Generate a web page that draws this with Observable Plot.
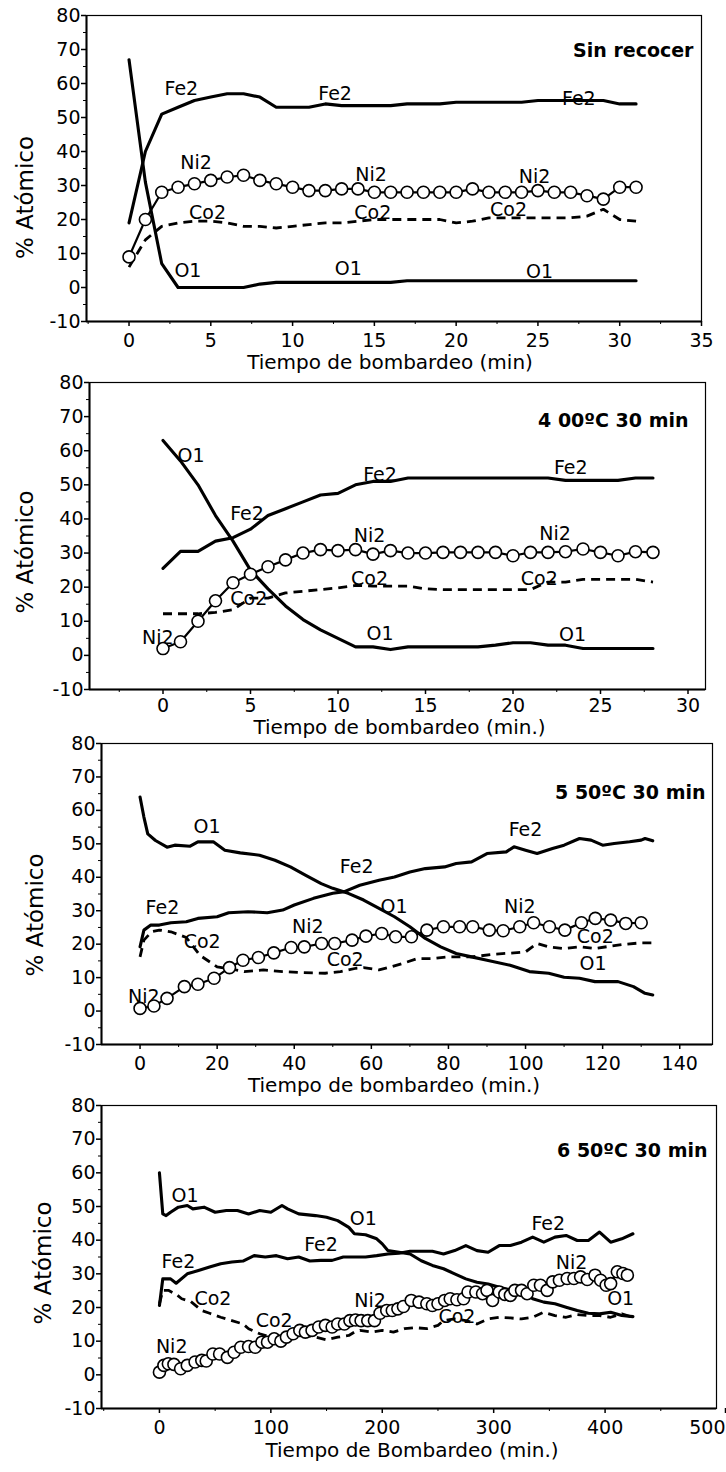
<!DOCTYPE html>
<html>
<head>
<meta charset="utf-8">
<script src="https://cdn.jsdelivr.net/npm/d3@7"></script>
<script src="https://cdn.jsdelivr.net/npm/@observablehq/plot@0.6"></script>
<style>
  body { margin: 0; background: #fff; }
  #fig { width: 726px; background: #fff; }
  #fig svg { display: block; overflow: visible; }
</style>
</head>
<body>
<div id="fig"></div>
<script>
// Shared y axis (atomic percent)
const yTicks = [-10, 0, 10, 20, 30, 40, 50, 60, 70, 80];
const yMinor = [-5, 5, 15, 25, 35, 45, 55, 65, 75];
const yTitle = "% Atómico";

// ---------- Sin recocer ----------
const t1 = [0,1,2,3,4,5,6,7,8,9,10,11,12,13,14,15,16,17,18,19,20,21,22,23,24,25,26,27,28,29,30,31];
const fe1 = [19,40,51,53,55,56,57,57,56,53,53,53,54,53.5,53.5,53.5,53.5,54,54,54,54.5,54.5,54.5,54.5,54.5,55,55,55,55,55,54,54];
const ni1 = [9,20,28,29.5,30.5,31.5,32.5,33,31.5,30.5,29.5,28.5,28.5,29,29,28,28,28,28,28,28,29,28,28,28,28.5,28,28,27,26,29.5,29.5];
const co1 = [6,14,18,19,19.5,19.5,19,18,18,17.5,18,18.5,19,19,19.5,20,20,20,20,20,19,19.5,20.5,20.5,20.5,20.5,20.5,20.5,21,23,20,19.5];
const o1 = [67,31,7,0,0,0,0,0,1,1.5,1.5,1.5,1.5,1.5,1.5,1.5,1.5,2,2,2,2,2,2,2,2,2,2,2,2,2,2,2];
const tags1 = [["Fe2",3.2,58.5],["Fe2",12.6,57],["Fe2",27.5,55.6],["Ni2",4.1,36.5],["Ni2",14.8,33],["Ni2",24.8,32.5],
               ["Co2",4.8,21.8],["Co2",14.9,21.8],["Co2",23.2,22.7],["O1",3.6,5],["O1",13.4,5.6],["O1",25.1,4.6]];
const xTicks1 = [0,5,10,15,20,25,30,35];
const xMinor1 = [-2.5,2.5,7.5,12.5,17.5,22.5,27.5,32.5];

// ---------- 400ºC 30 min ----------
const t2 = [0,1,2,3,4,5,6,7,8,9,10,11,12,13,14,15,16,17,18,19,20,21,22,23,24,25,26,27,28];
const o2 = [63,57,50,41,33.5,25,19.5,14.5,10.5,7.5,5,2.5,2.5,1.7,2.5,2.5,2.5,2.5,2.5,3,3.7,3.7,3,3,2,2,2,2,2];
const fe2 = [25.5,30.5,30.5,33.5,34.5,37,41,43,45,47,47.5,50,51,51,52,52,52,52,52,52,52,52,52,51.3,51.3,51.3,51.3,52,52];
const ni2 = [2,4,10,16,21.3,23.8,26,28,30,31,30.7,31,29.7,30.7,30,30,30.2,30.2,30.2,30.2,29.2,30.2,30.2,30.4,31.2,30.2,29.2,30.4,30.2];
const co2 = [12.2,12.2,12.2,12.6,13.4,16.8,16.8,18.3,18.8,19.3,19.8,20.5,20.3,20.3,20.3,19.5,19.3,19.3,19.3,19.3,19.3,19.3,21.5,21.5,22.3,22.3,22.3,22.3,21.5];
const tags2 = [["O1",1.6,58.4],["Fe2",4.8,41.6],["Fe2",12.4,53],["Fe2",23.3,55],["Ni2",11.8,35],["Ni2",22.4,35.6],["Ni2",-0.3,5.1],
               ["Co2",11.8,22.3],["Co2",21.5,22.3],["Co2",4.9,16.5],["O1",12.4,6.4],["O1",23.4,5.9]];
const xTicks2 = [0,5,10,15,20,25,30];
const xMinor2 = [-2.5,2.5,7.5,12.5,17.5,22.5,27.5];

// ---------- 550ºC 30 min ([min, %]) ----------
const fe3 = [[0,19.2],[1,24.2],[2.8,25.7],[5,25.7],[8,26.4],[12,26.7],[15,27.7],[20,28.2],[23,29.4],[28,29.7],[33,29.4],[37,30.2],[40,31.7],[45,33.7],[50,35.2],[53,35.7],[57,37.6],[62,39.1],[66,40.1],[70,41.6],[74,42.6],[79,43.1],[82,44.1],[86,44.6],[90,47.1],[95,47.6],[97,49.1],[100,48.1],[103,47.1],[107,48.6],[110,49.6],[114,51.6],[117,51.1],[120,49.6],[123,50.1],[127,50.6],[130,51.1],[131,51.6],[133,50.9]];
const o3 = [[0,64],[1,58],[2,53],[4,51],[7,49],[9,49.6],[13,49.3],[15,50.6],[19,50.6],[22,48.1],[26,47.3],[31,46.6],[35,45.1],[39,43.1],[43,40.6],[47,38.1],[50,36.7],[54,35.2],[58,33.2],[62,30.7],[66,28.2],[70,25.2],[74,21.7],[78,19.2],[82,17.2],[86,16.2],[90,15.2],[96,13.7],[101,11.8],[106,11.3],[110,10.1],[114,9.8],[118,8.8],[124,8.8],[128,7.3],[131,5.3],[133,4.8]];
const ni3 = [[0,0.8],[3.6,1.5],[7,3.8],[11.5,7.3],[15,8],[19.2,9.8],[23.2,13],[26.7,15.2],[30.7,16],[34.7,17.4],[39.2,19],[42.6,19.2],[47.1,20.2],[50.5,20.2],[55,21.2],[58.6,22.4],[62.7,23.2],[66.3,22.2],[70.4,22.2],[74.4,24.2],[78.7,25.2],[82.9,25.2],[86.3,25.2],[90.6,24.2],[94.2,24],[98.5,25.2],[102.1,26.4],[106.2,25.2],[110.2,24.2],[114.5,26.4],[118.1,27.7],[122.1,27.2],[126,26.2],[130,26.4]];
const co3 = [[0,16.2],[1,21.2],[3,23.7],[5,24.2],[8,23.7],[12,22],[15.5,16.7],[20,13.2],[24,12.5],[27,11.8],[32,12.3],[37,11.8],[42,11.5],[48,11.3],[52,11.8],[56,12.8],[58,13],[62,12.3],[65,13.2],[68,14.2],[72,15.7],[76,15.7],[80,16.2],[86,16.2],[92,17],[97,17.4],[100,17.7],[103,20.2],[106,19.2],[110,18.7],[114,19.2],[118,18.7],[122,19.4],[126,20],[130,20.4],[133,20.4]];
const tags3 = [["O1",17.4,55.1],["Fe2",56.2,43.1],["Fe2",100,54.1],["Fe2",5.8,30.7],["Co2",16.1,20.7],["Ni2",43.5,25.2],
               ["Co2",53.2,15.2],["O1",65.9,31.2],["Ni2",98.5,31.2],["Co2",118.1,22.2],["O1",117.5,14.2],["Ni2",1,4.3]];
const xTicks3 = [0,20,40,60,80,100,120,140];
const xMinor3 = [10,30,50,70,90,110,130];

// ---------- 650ºC 30 min ([min, %]) ----------
const o4 = [[0,60],[3,47.8],[6,47.3],[10,48.3],[17,49.8],[25,50.3],[30,49.3],[40,49.8],[50,48.3],[60,48.8],[70,48.8],[80,47.8],[90,48.8],[100,48.3],[110,50.3],[115,49.3],[125,47.8],[140,47.3],[150,46.8],[160,45.8],[170,43.8],[175,41.9],[185,41.6],[195,40.4],[200,38.9],[205,36.9],[215,36.4],[225,35.9],[235,33.9],[245,32.5],[255,31.5],[265,30],[275,28.5],[285,27.5],[295,27],[305,26],[315,25.2],[325,24.5],[335,22.6],[345,21.6],[355,21.1],[365,20.1],[375,19.1],[385,18.3],[395,18.1],[405,18.6],[415,17.6],[425,17.3]];
const fe4 = [[0,20.6],[3,28.5],[10,28.5],[15,27.2],[25,30],[35,31],[45,32],[55,33],[65,33.5],[75,33.8],[85,35.4],[95,35],[105,35.4],[115,34.5],[125,35],[135,33.8],[145,34],[155,34],[165,35],[175,35],[185,35],[195,35.4],[205,35.9],[215,36.1],[225,36.7],[235,36.7],[245,36.7],[255,35.9],[265,36.9],[275,38.4],[285,36.9],[295,36.4],[305,38.4],[315,38.4],[325,39.4],[335,40.9],[345,39.4],[355,40.9],[365,41.4],[375,39.9],[385,39.9],[395,42.4],[405,39.4],[415,40.4],[425,41.9]];
const ni4 = [[0,0.8],[4,2.8],[8,3.3],[13,3.1],[19,1.8],[25,2.8],[32,3.8],[38,4.3],[42,4.1],[48,6.2],[54,6.2],[61,5.2],[67,6.7],[73,8.2],[80,8.4],[86,8.2],[92,9.7],[97,9.7],[103,10.7],[109,10],[114,11.2],[120,12.2],[126,13.2],[131,12.7],[137,13.2],[143,14.2],[149,14.7],[155,14.2],[160,15.1],[166,15.1],[171,16.1],[176,16.3],[181,16.1],[187,16.1],[193,16.1],[198,18.3],[204,19.1],[209,19.1],[214,19.6],[219,20.3],[226,22.1],[233,21.6],[240,21.1],[245,20.6],[250,21.1],[256,22.1],[261,22.6],[267,22.3],[273,22.6],[277,24.6],[284,24.6],[290,24.1],[294,25.1],[299,22.1],[305,24.6],[310,23.9],[315,23.6],[319,25.1],[325,25.1],[330,24.1],[336,26.6],[342,26.6],[348,25.1],[353,27.6],[359,28.1],[366,28.6],[372,28.6],[378,29.1],[384,28.3],[391,29.6],[396,28.1],[401,26.6],[405,27.1],[411,30.6],[416,30.1],[420,29.6]];
const co4 = [[0,21.1],[3,25.1],[8,25.1],[15,23.9],[20,22.6],[28,21.8],[38,19.1],[45,18.3],[55,17.1],[65,16.1],[75,15.1],[80,13.7],[90,12.2],[100,11.2],[110,10.7],[120,11.2],[130,11.7],[140,11.2],[150,10.4],[160,11.2],[170,11.7],[175,12.7],[180,13.2],[190,12.7],[200,13.2],[210,12.7],[220,13.7],[230,14],[240,13.7],[250,14.7],[255,16.1],[265,16.6],[275,16.1],[285,15.1],[295,16.6],[305,17.1],[315,16.9],[325,16.6],[335,17.1],[345,18.6],[355,17.6],[365,17.1],[375,17.9],[385,17.6],[395,17.6],[405,17.1],[415,18.1],[425,17.1]];
const tags4 = [["O1",23,53],["Fe2",17,33.5],["Co2",48,22.6],["Co2",103,16.1],["Fe2",145,38.7],["O1",183,46.3],
               ["Ni2",189,22.1],["Ni2",11,8.2],["Co2",267,17.1],["Fe2",349,44.8],["Ni2",370,33.2],["O1",414,22.6]];
const xTicks4 = [0,100,200,300,400];
const xLast4 = [500];
const xMinor4 = [-50,50,150,250,350,450];

const FONT = "DejaVu Sans";
const fmt = d => String(d);

function panel(cfg) {
  const L = cfg.layout;
  const [xmin] = cfg.xDomain;
  const solid = {x: d => d[0], y: d => d[1], stroke: "black", strokeWidth: 3.1, strokeLinejoin: "round", strokeLinecap: "round"};
  const marks = [
    // series names written beside the curves
    Plot.text(cfg.tags, {x: d => d[1], y: d => d[2], text: d => d[0], fontSize: 19, fontFamily: FONT}),
    // curves
    Plot.line(cfg.co, {...solid, strokeWidth: 2.8, strokeDasharray: "9,6", strokeLinecap: "butt"}),
    Plot.line(cfg.fe, solid),
    Plot.line(cfg.o, solid),
    Plot.line(cfg.ni, {...solid, strokeWidth: 2.2}),
    Plot.dot(cfg.ni, {x: d => d[0], y: d => d[1], r: 6, fill: "white", stroke: "black", strokeWidth: 1.6}),
    // box and axes
    Plot.frame({stroke: "black", strokeWidth: 1.2}),
    Plot.ruleX([xmin], {stroke: "black", strokeWidth: 2}),
    Plot.ruleY([-10], {stroke: "black", strokeWidth: 2}),
    Plot.axisY(yTicks, {anchor: "left", tickSize: 5, tickPadding: 1, tickFormat: fmt, label: null, strokeWidth: 1.5}),
    Plot.axisY(yMinor, {anchor: "left", tickSize: 3, tickFormat: () => "", label: null}),
    Plot.axisX(cfg.xTicks, {anchor: "bottom", tickSize: 5, tickPadding: L.xPad, tickFormat: fmt, label: null, strokeWidth: 1.5}),
    Plot.axisX(cfg.xMinor, {anchor: "bottom", tickSize: 3, tickFormat: () => "", label: null}),
    // panel heading, axis titles
    Plot.text([cfg.heading], {frameAnchor: "top-right", text: d => d, textAnchor: "end", dx: L.hdx, dy: L.hdy,
                               fontWeight: "bold", fontSize: 19, fontFamily: FONT}),
    Plot.text([cfg.xTitle], {frameAnchor: "bottom", text: d => d, textAnchor: "middle", dx: L.tdx, dy: L.tdy, fontSize: 20, fontFamily: FONT}),
    Plot.text([yTitle], {frameAnchor: "left", text: d => d, textAnchor: "middle", rotate: -90, dx: L.ydx, dy: L.ydy, fontSize: 23, fontFamily: FONT})
  ];
  // the last tick label sits against the right edge of the page
  if (cfg.xLast) marks.push(Plot.axisX(cfg.xLast, {anchor: "bottom", tickSize: 5, tickPadding: L.xPad, tickFormat: fmt,
                                                   textAnchor: "end", dx: 9, label: null, strokeWidth: 1.5}));
  return Plot.plot({
    width: 726,
    height: L.height,
    marginTop: L.top, marginBottom: L.bottom, marginLeft: L.left, marginRight: L.right,
    x: {domain: cfg.xDomain, label: null},
    y: {domain: [-10, 80], label: null},
    style: {background: "transparent", color: "black", fontFamily: FONT, fontSize: "19px", overflow: "visible"},
    marks
  });
}

const fig = document.getElementById("fig");
const z = (t, v) => d3.zip(t, v);

fig.append(panel({
  heading: "Sin recocer", xTitle: "Tiempo de bombardeo (min)",
  xDomain: [-2.6, 35], xTicks: xTicks1, xMinor: xMinor1, tags: tags1,
  fe: z(t1, fe1), ni: z(t1, ni1), co: z(t1, co1), o: z(t1, o1),
  layout: {height: 368, top: 15, bottom: 47, left: 86, right: 25, xPad: 7, hdx: -8, hdy: 28, tdx: -4, tdy: 47, ydx: -61, ydy: 29}
}));

fig.append(panel({
  heading: "4 00ºC 30 min", xTitle: "Tiempo de bombardeo (min.)",
  xDomain: [-4.2, 31], xTicks: xTicks2, xMinor: xMinor2, tags: tags2,
  fe: z(t2, fe2), ni: z(t2, ni2), co: z(t2, co2), o: z(t2, o2),
  layout: {height: 368, top: 14, bottom: 47, left: 89, right: 21, xPad: 4, hdx: -17, hdy: 31, tdx: 2, tdy: 44, ydx: -64, ydy: 16}
}));

fig.append(panel({
  heading: "5 50ºC 30 min", xTitle: "Tiempo de bombardeo (min.)",
  xDomain: [-10, 148.5], xTicks: xTicks3, xMinor: xMinor3, tags: tags3,
  fe: fe3, ni: ni3, co: co3, o: o3,
  layout: {height: 356, top: 7, bottom: 48, left: 101, right: 14, xPad: 7, hdx: -7, hdy: 42, tdx: -13, tdy: 47, ydx: -66, ydy: 21}
}));

fig.append(panel({
  heading: "6 50ºC 30 min", xTitle: "Tiempo de Bombardeo (min.)",
  xDomain: [-52, 500], xTicks: xTicks4, xLast: xLast4, xMinor: xMinor4, tags: tags4,
  fe: fe4, ni: ni4, co: co4, o: o4,
  layout: {height: 380, top: 13, bottom: 64, left: 101, right: 10, xPad: 7, hdx: -9, hdy: 38, tdx: 3, tdy: 48, ydx: -58, ydy: 6}
}));
</script>
</body>
</html>
